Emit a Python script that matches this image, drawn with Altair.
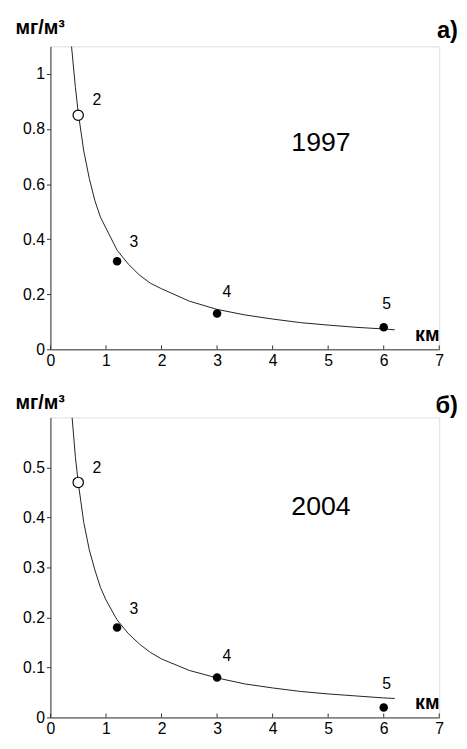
import altair as alt
import pandas as pd

FONT = "Liberation Sans"

# measured points (distance km, concentration mg/m3)
pt_x = [0.5, 1.2, 3.0, 6.0]
pt_label = ["2", "3", "4", "5"]
pt_open = [True, False, False, False]
pt_y_1997 = [0.85, 0.32, 0.13, 0.08]
pt_y_2004 = [0.47, 0.18, 0.08, 0.02]

# fitted curves
curve_x_1997 = [0.38, 0.45, 0.5, 0.6, 0.7, 0.8, 0.9, 1.0, 1.2, 1.4, 1.6, 1.8, 2.0,
                2.5, 3.0, 3.5, 4.0, 4.5, 5.0, 5.5, 6.0, 6.2]
curve_y_1997 = [1.10, 0.95, 0.86, 0.72, 0.62, 0.54, 0.48, 0.44, 0.36, 0.31, 0.27,
                0.24, 0.22, 0.175, 0.145, 0.125, 0.11, 0.097, 0.088, 0.08, 0.074, 0.071]
curve_x_2004 = [0.39, 0.45, 0.5, 0.6, 0.7, 0.8, 0.9, 1.0, 1.2, 1.4, 1.6, 1.8, 2.0,
                2.5, 3.0, 3.5, 4.0, 4.5, 5.0, 5.5, 6.0, 6.2]
curve_y_2004 = [0.60, 0.52, 0.47, 0.39, 0.335, 0.295, 0.26, 0.235, 0.195, 0.168, 0.147,
                0.13, 0.117, 0.094, 0.079, 0.067, 0.059, 0.052, 0.047, 0.043, 0.039, 0.038]

x_ticks = [0, 1, 2, 3, 4, 5, 6, 7]
y_ticks_1997 = [0, 0.2, 0.4, 0.6, 0.8, 1.0]
y_ticks_2004 = [0, 0.1, 0.2, 0.3, 0.4, 0.5]

years = ["1997", "2004"]
year_x = [4.87, 4.87]
year_y = [0.75, 0.42]
letters = ["а)", "б)"]

label_offsets = {"2": (19, -15), "3": (17, -19), "4": (10, -22), "5": (3, -24)}

W = 394


def panel(cx, cy, py, ydom, yticks, year, yx, yy, letter, H, ytitle_y, letter_y):
    xs = alt.Scale(domain=[0, 7], nice=False, zero=False)
    ys = alt.Scale(domain=ydom, nice=False, zero=False)
    curve = pd.DataFrame({"x": cx, "y": cy})
    pts = pd.DataFrame({"x": pt_x, "y": py, "label": pt_label, "open": pt_open})
    ticks = pd.DataFrame({"t": x_ticks})
    yr = pd.DataFrame({"x": [yx], "y": [yy], "t": [year]})
    lt = pd.DataFrame({"t": [letter]})

    xax = alt.Axis(values=x_ticks, format="~g", tickSize=0, labelPadding=3, grid=False,
                   title="км", titleAlign="left", titleBaseline="alphabetic",
                   titleX=369, titleY=-9, titleFontSize=20, titleFontWeight="bold",
                   titleFont=FONT, labelFont=FONT, labelFontSize=16, labelColor="#000",
                   titleColor="#000", domainColor="#333", labelFlush=False)
    yax = alt.Axis(values=yticks, format="~g", tickSize=4, labelPadding=2, grid=False,
                   title="мг/м³", titleAngle=0, titleAlign="left", titleBaseline="alphabetic",
                   titleX=-36, titleY=ytitle_y, titleFontSize=20, titleFontWeight="bold",
                   titleFont=FONT, labelFont=FONT, labelFontSize=16, labelColor="#000",
                   titleColor="#000", domainColor="#333", tickColor="#333", labelFlush=False)

    base_line = alt.Chart(curve).mark_line(color="#222", strokeWidth=1, clip=True).encode(
        x=alt.X("x:Q", scale=xs, axis=xax),
        y=alt.Y("y:Q", scale=ys, axis=yax),
    )
    tick_marks = alt.Chart(ticks).mark_rule(color="#333", strokeWidth=1).encode(
        x=alt.X("t:Q", scale=xs),
        y=alt.value(H),
        y2=alt.value(H - 4),
    )
    filled = alt.Chart(pts).transform_filter("!datum.open").mark_point(
        shape="circle", filled=True, color="#000", size=75, opacity=1
    ).encode(x=alt.X("x:Q", scale=xs), y=alt.Y("y:Q", scale=ys))
    hollow = alt.Chart(pts).transform_filter("datum.open").mark_point(
        shape="circle", filled=True, fill="#fff", stroke="#000", strokeWidth=1.2, size=110, opacity=1
    ).encode(x=alt.X("x:Q", scale=xs), y=alt.Y("y:Q", scale=ys))
    layers = [base_line, tick_marks, filled, hollow]
    for lab, (dx, dy) in label_offsets.items():
        layers.append(
            alt.Chart(pts).transform_filter(f"datum.label == '{lab}'").mark_text(
                font=FONT, fontSize=16, color="#000", dx=dx, dy=dy, align="center", baseline="middle"
            ).encode(x=alt.X("x:Q", scale=xs), y=alt.Y("y:Q", scale=ys), text="label:N")
        )
    layers.append(
        alt.Chart(yr).mark_text(font=FONT, fontSize=27, color="#000", align="center",
                                baseline="middle").encode(
            x=alt.X("x:Q", scale=xs), y=alt.Y("y:Q", scale=ys), text="t:N")
    )
    layers.append(
        alt.Chart(lt).mark_text(font=FONT, fontSize=24, fontWeight="bold", color="#000",
                                align="right", baseline="alphabetic").encode(
            x=alt.value(W + 19), y=alt.value(letter_y), text="t:N")
    )
    return alt.layer(*layers).properties(width=W, height=H)


top = panel(curve_x_1997, curve_y_1997, pt_y_1997, [0, 1.1], y_ticks_1997,
            years[0], year_x[0], year_y[0], letters[0], 307, -13, -8)
bottom = panel(curve_x_2004, curve_y_2004, pt_y_2004, [0, 0.6], y_ticks_2004,
               years[1], year_x[1], year_y[1], letters[1], 304, -9, -5)

chart = alt.vconcat(top, bottom, spacing=23).configure_view(stroke=None).configure(
    background="white"
).properties(padding={"left": 6, "top": 4, "right": 0, "bottom": 0})

chart.save("out.html", embed_options={"renderer": "svg", "actions": False})
